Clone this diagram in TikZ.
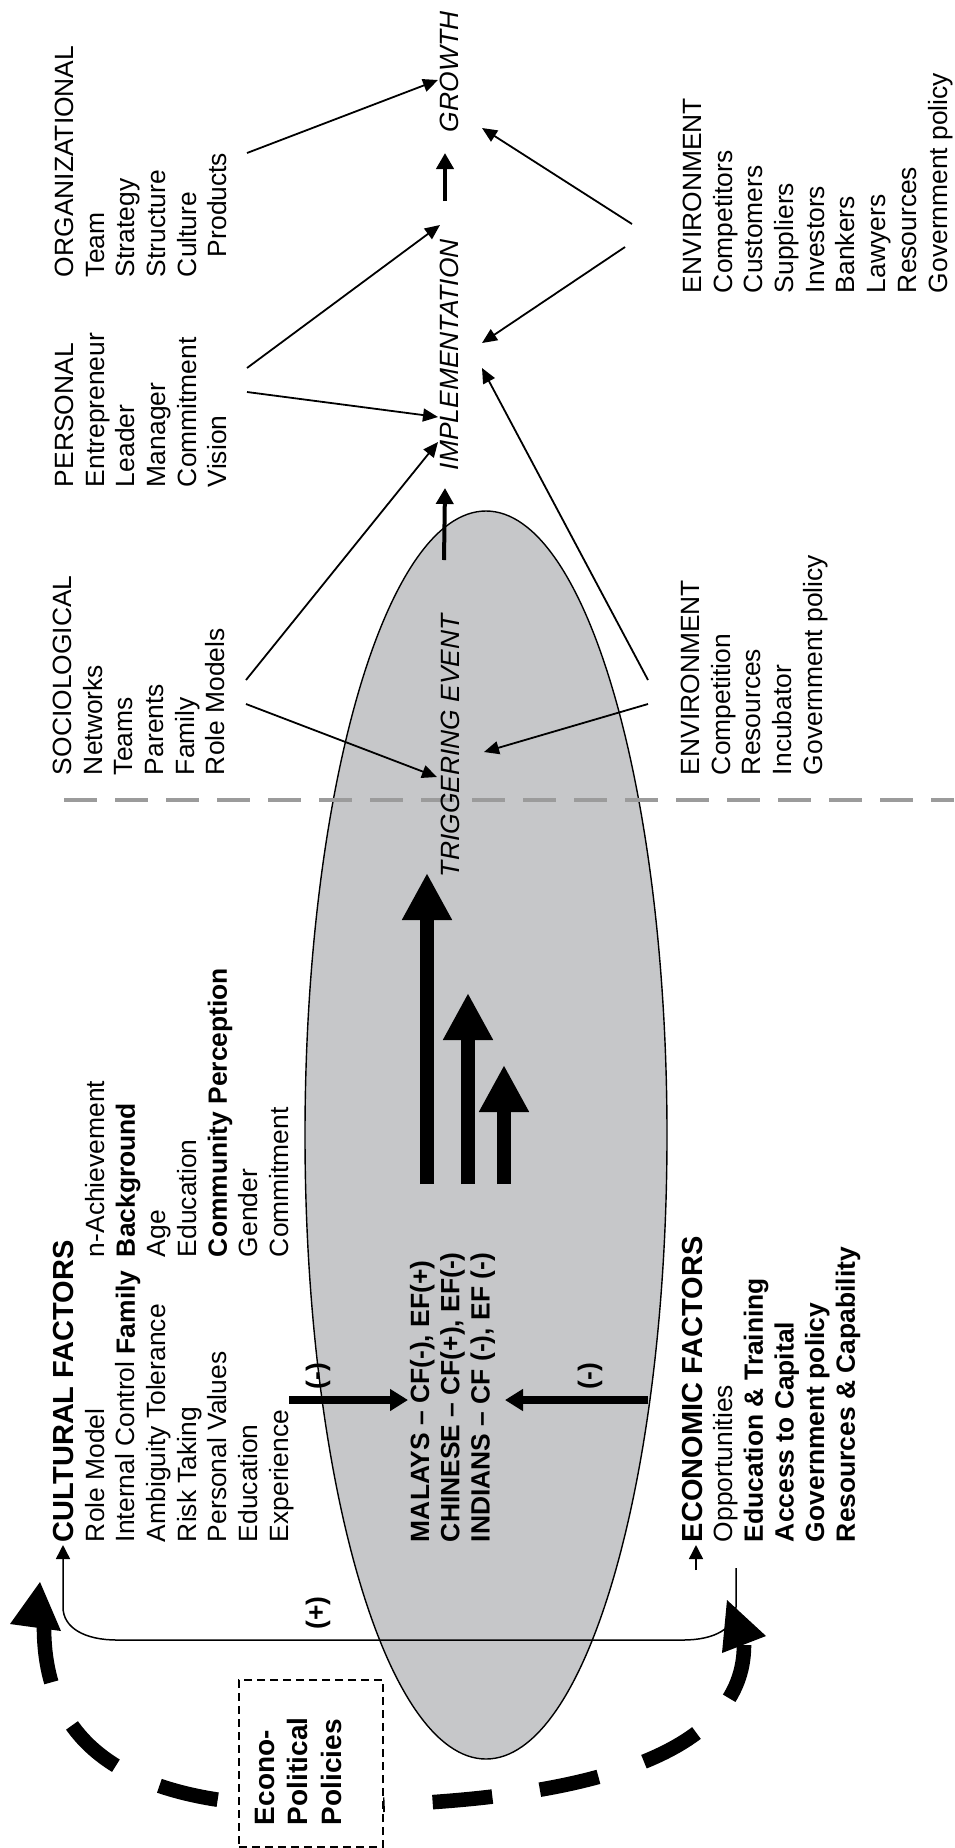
\documentclass[tikz,border=0pt]{standalone}
\usepackage{fontspec}
\setmainfont{Liberation Sans}
\usetikzlibrary{arrows.meta,shapes.geometric}
\definecolor{ellgray}{HTML}{C6C7C9}
\definecolor{dashgray}{HTML}{9B9B9B}
\begin{document}
\begin{tikzpicture}[x=0.5pt,y=-0.5pt,
  txt/.style={rotate=90, anchor=north west, inner sep=0pt, outer sep=0pt, align=left,
    font=\fontsize{13.2}{15.35}\selectfont},
  ital/.style={txt, font=\fontsize{13.2}{15.35}\selectfont\itshape},
  boldtxt/.style={txt, font=\fontsize{13.2}{15.1}\selectfont\bfseries},
  headtxt/.style={txt, font=\fontsize{14.5}{16}\selectfont\bfseries},
  lbl/.style={rotate=90, inner sep=0pt, font=\fontsize{13.2}{15.35}\selectfont\bfseries},
  thinarrow/.style={line width=0.9pt, -{Triangle[length=7.5pt,width=6.5pt]}},
  shortarrow/.style={line width=2pt, -{Triangle[length=8pt,width=8.5pt]}},
  medarrow/.style={line width=3.6pt, -{Triangle[length=9pt,width=10.5pt]}},
  bigarrow/.style={line width=7.2pt, -{Triangle[length=23.5pt,width=23.5pt]}},
  looparrow/.style={line width=0.75pt, -{Triangle[length=7pt,width=7pt]}},
  arcline/.style={line width=7.3pt, dash pattern=on 30pt off 24pt, dash phase=2pt},
]
\useasboundingbox (0,0) rectangle (954,1848);

% ellipse and divider
\node[ellipse, draw, fill=ellgray, line width=0.7pt, minimum width=181pt, minimum height=624pt, inner sep=0pt] (ell) at (486,1135) {};
\coordinate (divS) at (64,800);
\coordinate (divE) at (954,800);
\draw[dashgray, line width=2.4pt, dash pattern=on 16.5pt off 9pt] (divS) -- (divE);

% big dashed arc, drawn from both ends towards the box, with heads
\coordinate (arcL) at (44,1627);
\coordinate (arcR) at (744,1645);
\coordinate (arcM) at (310,1806);
\draw[arcline] (arcL) .. controls (44,1760) and (150,1806) .. (arcM);
\draw[arcline] (arcR) .. controls (744,1750) and (600,1806) .. (arcM);
\fill (40,1582) -- (61,1631) -- (10,1624) -- cycle;
\fill (727,1600) -- (766,1636) -- (722,1653) -- cycle;

% econo-political box
\node[draw, dash pattern=on 4pt off 2.5pt, fill=white, line width=0.7pt, minimum width=72pt, minimum height=83.5pt, inner sep=0pt] (ebox) at (311,1763.5) {};
\node[txt, font=\fontsize{14}{16.7}\selectfont\bfseries] (etext) at (255,1825) {Econo-\\Political\\Policies};

% text blocks, top half
\node[txt] (org) at (55,277) {ORGANIZATIONAL\\Team\\Strategy\\Structure\\Culture\\\hspace*{10pt}Products};
\node[txt] (pers) at (55,487) {PERSONAL\\Entrepreneur\\Leader\\Manager\\Commitment\\Vision};
\node[ital] (growth) at (440,132) {GROWTH};
\node[ital] (impl) at (440,470) {IMPLEMENTATION};
\node[ital] (trig) at (441,877) {TRIGGERING EVENT};
\node[txt] (envtop) at (683,293) {ENVIRONMENT\\Competitors\\Customers\\Suppliers\\Investors\\Bankers\\Lawyers\\Resources\\Government policy};
\node[txt] (soc) at (53,775) {SOCIOLOGICAL\\Networks\\Teams\\Parents\\Family\\Role Models};
\node[txt] (envmid) at (681,775) {ENVIRONMENT\\Competition\\Resources\\Incubator\\Government policy};

% text blocks, bottom half
\node[headtxt] (cult) at (53,1542) {CULTURAL FACTORS};
\node[txt] (cult1) at (85,1542) {Role Model\\Internal Control \textbf{Family}\\Ambiguity Tolerance\\Risk Taking\\Personal Values\\Education\\Experience};
\node[txt] (cult2) at (85,1257) {n-Achievement\\\textbf{Background}\\Age\\Education\\\textbf{Community Perception}\\Gender\\Commitment};
\node[boldtxt] (groups) at (410,1542) {MALAYS – CF(-), EF(+)\\CHINESE – CF(+), EF(-)\\INDIANS – CF (-), EF (-)};
\node[headtxt] (econ) at (682,1542) {ECONOMIC FACTORS};
\node[txt] (econ1) at (713,1542) {Opportunities\\\textbf{Education \& Training}\\\textbf{Access to Capital}\\\textbf{Government policy}\\\textbf{Resources \& Capability}};

\node[lbl] (minusL) at (318,1376) {(-)};
\node[lbl] (minusR) at (590,1376) {(-)};
\node[lbl] (plus) at (318,1613) {(+)};

% thin arrows
\coordinate (prodR) at (247,153);   \coordinate (growthL) at (438,80);
\coordinate (persR1) at (247,368);  \coordinate (implTop) at (440,225);
\coordinate (persR2) at (247,392);  \coordinate (implL) at (438,417);
\coordinate (envtL1) at (632,224);  \coordinate (growthR) at (482,128);
\coordinate (envtL2) at (625,247);  \coordinate (implR) at (482,343);
\coordinate (socR1) at (246,680);   \coordinate (implL2) at (438,442);
\coordinate (socR2) at (246,704);   \coordinate (trigL) at (437,777);
\coordinate (envmL1) at (648,680);  \coordinate (implR2) at (482,368);
\coordinate (envmL2) at (648,704);  \coordinate (trigR) at (484,752);
\draw[thinarrow] (prodR) -- (growthL);
\draw[thinarrow] (persR1) -- (implTop);
\draw[thinarrow] (persR2) -- (implL);
\draw[thinarrow] (envtL1) -- (growthR);
\draw[thinarrow] (envtL2) -- (implR);
\draw[thinarrow] (socR1) -- (implL2);
\draw[thinarrow] (socR2) -- (trigL);
\draw[thinarrow] (envmL1) -- (implR2);
\draw[thinarrow] (envmL2) -- (trigR);

% short thick arrows
\coordinate (implEnd) at (445,201);  \coordinate (growthStart) at (445,153);
\coordinate (trigEnd) at (444,560);  \coordinate (implStart) at (445,488);
\draw[shortarrow] (implEnd) -- (growthStart);
\draw[shortarrow] (trigEnd) -- (implStart);

% big arrows in ellipse
\coordinate (b1s) at (427,1184); \coordinate (b1e) at (427,873);
\coordinate (b2s) at (468,1184); \coordinate (b2e) at (468,993);
\coordinate (b3s) at (504,1184); \coordinate (b3e) at (504,1065);
\draw[bigarrow] (b1s) -- (b1e);
\draw[bigarrow] (b2s) -- (b2e);
\draw[bigarrow] (b3s) -- (b3e);

% cultural / economic arrows into groups
\coordinate (cultA) at (289,1400); \coordinate (groupsL) at (408,1400);
\coordinate (econA) at (648,1400); \coordinate (groupsR) at (505,1400);
\draw[medarrow] (cultA) -- (groupsL);
\draw[medarrow] (econA) -- (groupsR);

% feedback loop (+)
\coordinate (loopS) at (736,1568);
\coordinate (cultIn) at (63,1545);
\draw[looparrow] (loopS) -- (736,1607) .. controls (736,1628) and (715,1640) .. (683,1640)
  -- (117,1640) .. controls (85,1640) and (63,1628) .. (63,1607) -- (cultIn);
\coordinate (econS) at (696,1570); \coordinate (econIn) at (696,1545);
\draw[looparrow] (econS) -- (econIn);
\end{tikzpicture}
\end{document}
